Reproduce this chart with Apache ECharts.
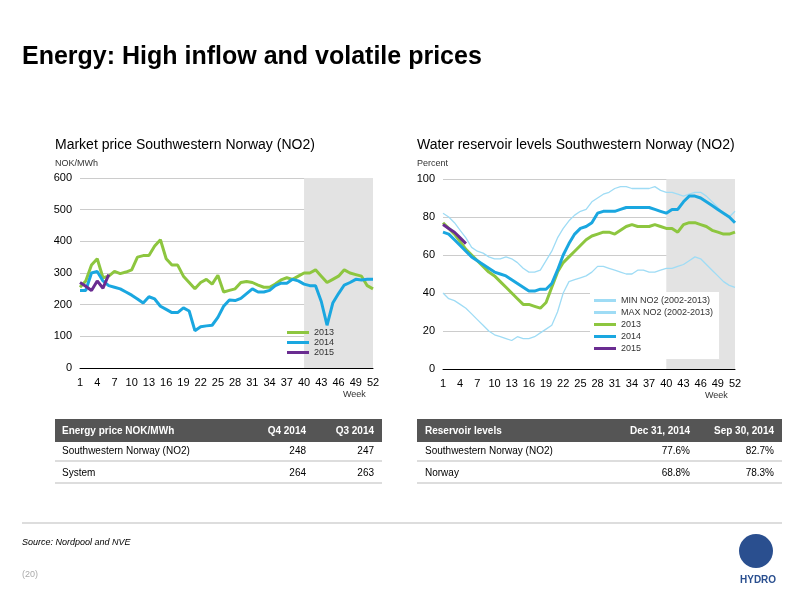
<!DOCTYPE html><html><head><meta charset="utf-8"><script src="https://cdn.jsdelivr.net/npm/echarts@6/dist/echarts.min.js"></script>
<style>body{margin:0}#c{width:800px;height:600px}</style></head><body><div id="c"></div><script>
const weeks=[];for(let i=1;i<=52;i++)weeks.push(String(i));
const price2013=[255,275,325,345,285,290,305,298,303,310,350,355,355,385,405,345,325,325,290,270,250,270,280,265,293,240,245,250,270,273,270,262,255,255,265,278,285,280,290,300,300,310,290,270,280,290,310,300,295,290,260,250];
const price2014=[245,245,300,305,275,260,255,250,240,230,218,205,225,218,195,185,175,175,190,180,118,130,133,135,160,195,215,213,220,235,250,240,240,245,260,268,268,280,275,265,260,260,210,135,205,235,262,270,280,278,280,280];
const price2015=[270,258,245,275,252,295];
const resMax=[82,80,77,73,69,64,62,61,59,58,58,59,58,56,53,51,51,52,57,62,69,74,78,81,83,84,88,90,92,93,95,96,96,95,95,95,95,96,94,93,93,92,91,92,93,93,91,88,85,82,80,83];
const resMin=[40,37,36,34,32,29,26,23,20,18,17,16,15,17,16,16,17,19,21,23,30,40,46,47,48,49,51,54,54,53,52,51,50,50,52,52,51,51,52,53,53,54,55,57,59,58,55,52,49,46,44,43];
const res2013=[77,74,71,67,63,60,57,54,51,49,46,43,40,37,34,34,33,32,35,43,51,56,59,62,65,68,70,71,72,72,71,73,75,76,75,75,75,76,75,74,74,72,76,77,77,76,75,73,72,71,71,72];
const res2014=[72,71,68,65,62,59,57,55,53,51,50,49,47,45,43,41,41,42,42,45,52,60,66,71,74,75,77,82,83,83,83,84,85,85,85,85,85,84,83,82,84,84,88,91,91,90,88,86,84,82,80,77];
const res2015=[76,74,72,69,66];
const F='Liberation Sans, Arial, sans-serif';
const G='#8dc63f',B='#1aa7e0',P='#6a2c91',L='#9fdcf5';
function xa(gi){return {type:'category',gridIndex:gi,data:weeks,boundaryGap:false,axisTick:{show:false},axisLine:{lineStyle:{color:'#000'}},axisLabel:{interval:2,color:'#000',fontSize:11,fontFamily:F,margin:9},name:'Week',nameLocation:'end',nameGap:0,nameTextStyle:{color:'#333',fontSize:9,fontFamily:F,verticalAlign:'top',padding:[22,0,0,-30]}};}
function ya(gi,max,iv){return {type:'value',gridIndex:gi,min:0,max:max,interval:iv,axisLabel:{color:'#000',fontSize:11,fontFamily:F},splitLine:{lineStyle:{color:'#ccc'}},axisLine:{show:false},axisTick:{show:false}};}
function ln(name,d,c,w,xi,extra){return Object.assign({name:name,type:'line',data:d,xAxisIndex:xi,yAxisIndex:xi,symbol:'none',lineStyle:{color:c,width:w},itemStyle:{color:c},z:3},extra||{});}
const shade={silent:true,itemStyle:{color:'#e3e3e3'},data:[[{xAxis:'40'},{xAxis:'52'}]]};
function txt(x,y,t,o){return {type:'text',left:x,top:y,style:Object.assign({text:t,fill:'#000',font:'11px '+F},o||{})};}
function rt(x,y,t,o){return {type:'text',x:x,y:y,style:Object.assign({text:t,fill:'#000',font:'10px '+F,align:'right'},o||{})};}
const g=[
 txt(22,45,'Energy: High inflow and volatile prices',{font:'bold 25px '+F}),
 txt(55,138,'Market price Southwestern Norway (NO2)',{font:'14px '+F}),
 txt(55,159,'NOK/MWh',{font:'9px '+F,fill:'#333'}),
 txt(417,138,'Water reservoir levels Southwestern Norway (NO2)',{font:'14px '+F}),
 txt(417,159,'Percent',{font:'9px '+F,fill:'#333'}),
 {type:'rect',shape:{x:55,y:419,width:327,height:23},style:{fill:'#555'}},
 {type:'rect',shape:{x:417,y:419,width:365,height:23},style:{fill:'#555'}},
 {type:'text',x:62,y:426,style:{text:'Energy price NOK/MWh',fill:'#fff',font:'bold 10px '+F}},
 rt(306,426,'Q4 2014',{fill:'#fff',font:'bold 10px '+F}),rt(374,426,'Q3 2014',{fill:'#fff',font:'bold 10px '+F}),
 {type:'text',x:62,y:446,style:{text:'Southwestern Norway (NO2)',fill:'#000',font:'10px '+F}},
 rt(306,446,'248'),rt(374,446,'247'),
 {type:'text',x:62,y:468,style:{text:'System',fill:'#000',font:'10px '+F}},
 rt(306,468,'264'),rt(374,468,'263'),
 {type:'text',x:425,y:426,style:{text:'Reservoir levels',fill:'#fff',font:'bold 10px '+F}},
 rt(690,426,'Dec 31, 2014',{fill:'#fff',font:'bold 10px '+F}),rt(774,426,'Sep 30, 2014',{fill:'#fff',font:'bold 10px '+F}),
 {type:'text',x:425,y:446,style:{text:'Southwestern Norway (NO2)',fill:'#000',font:'10px '+F}},
 rt(690,446,'77.6%'),rt(774,446,'82.7%'),
 {type:'text',x:425,y:468,style:{text:'Norway',fill:'#000',font:'10px '+F}},
 rt(690,468,'68.8%'),rt(774,468,'78.3%'),
 {type:'line',shape:{x1:55,y1:461,x2:382,y2:461},style:{stroke:'#bbb'}},
 {type:'line',shape:{x1:55,y1:483,x2:382,y2:483},style:{stroke:'#bbb'}},
 {type:'line',shape:{x1:417,y1:461,x2:782,y2:461},style:{stroke:'#bbb'}},
 {type:'line',shape:{x1:417,y1:483,x2:782,y2:483},style:{stroke:'#bbb'}},
 {type:'line',shape:{x1:22,y1:523,x2:782,y2:523},style:{stroke:'#bbb'}},
 {type:'text',x:22,y:538,style:{text:'Source: Nordpool and NVE',fill:'#000',font:'italic 9px '+F}},
 {type:'text',x:22,y:570,style:{text:'(20)',fill:'#aaa',font:'9px '+F}},
 {type:'text',x:740,y:575,style:{text:'HYDRO',fill:'#2a4f8f',font:'bold 10px '+F}},
 {type:'circle',shape:{cx:756,cy:551,r:17},style:{fill:'#2a4f8f'}}
];
const ch=echarts.init(document.getElementById('c'));
ch.setOption({animation:false,backgroundColor:'#fff',
grid:[{left:80,right:427,top:178,height:190},{left:443,right:65,top:179,height:190}],
xAxis:[xa(0),xa(1)],yAxis:[ya(0,600,100),ya(1,100,20)],
legend:[{data:['2013','2014','2015'],left:282,top:323,orient:'vertical',itemGap:1,itemWidth:22,itemHeight:3,icon:'rect',textStyle:{fontSize:9,fontFamily:F,color:'#333'}},
{data:['MIN NO2 (2002-2013)','MAX NO2 (2002-2013)','2013 ','2014 ','2015 '],left:590,top:292,orient:'vertical',itemGap:3,itemWidth:22,itemHeight:3,icon:'rect',backgroundColor:'#fff',padding:[4,6,6,4],textStyle:{fontSize:9,fontFamily:F,color:'#333'}}],
series:[
 ln('2013',price2013,G,3,0,{markArea:shade}),ln('2014',price2014,B,3,0),ln('2015',price2015,P,3,0),
 ln('MIN NO2 (2002-2013)',resMin,L,1.3,1,{markArea:shade}),ln('MAX NO2 (2002-2013)',resMax,L,1.3,1),
 ln('2013 ',res2013,G,3,1),ln('2014 ',res2014,B,3,1),ln('2015 ',res2015,P,3,1)],
graphic:g});
</script></body></html>
